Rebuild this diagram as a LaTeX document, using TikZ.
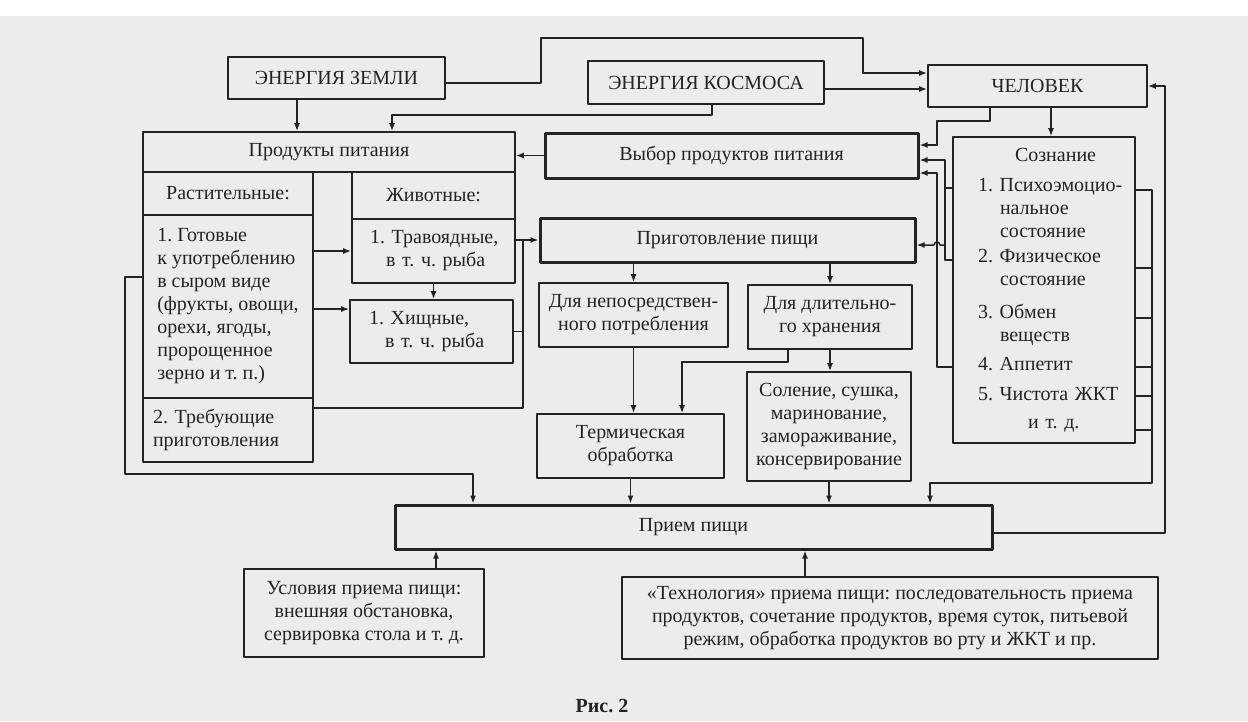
\documentclass[tikz,border=0pt]{standalone}
\usepackage{fontspec}
\setmainfont{Liberation Serif}
\usetikzlibrary{arrows.meta}
\definecolor{ink}{RGB}{35,35,35}
\definecolor{paper}{RGB}{236,236,238}
\frenchspacing
\begin{document}
\begin{tikzpicture}[x=1pt,y=-1pt,line join=round,>={Latex[length=8pt,width=6pt]},
	font=\fontsize{20}{23}\selectfont\frenchspacing,color=ink,line width=1.5pt,
	box/.style={draw,line width=1.6pt,inner sep=0pt,align=center},
	boldbox/.style={box,line width=3pt}]
	\fill[paper] (0,0) rectangle (1248,721);
	\fill[white] (0,0) rectangle (1248,16);
	\useasboundingbox (0,0) rectangle (1248,721);
	% sources
	\node[box,minimum width=217,minimum height=42] (zem) at (336.5,78) {ЭНЕРГИЯ ЗЕМЛИ};
	\node[box,minimum width=236,minimum height=43] (kos) at (706,82.5) {ЭНЕРГИЯ КОСМОСА};
	\node[box,minimum width=219,minimum height=42] (chel) at (1037.5,86) {ЧЕЛОВЕК};
	% products
	\node[box,minimum width=372,minimum height=40] (prod) at (329,152) {Продукты питания};
	\node[box,minimum width=170,minimum height=43] (rast) at (228,193.5) {Растительные:};
	\node[box,minimum width=170,minimum height=183,align=left] (gotov) at (228,306.5)
		{1. Готовые\\к употреблению\\в сыром виде\\(фрукты, овощи,\\орехи, ягоды,\\пророщенное\\зерно и т. п.)};
	\node[box,minimum height=64,text width=150,inner xsep=10,align=left] (treb) at (228,430) {2. Требующие\\приготовления};
	\node[box,minimum width=163,minimum height=47] (zhiv) at (433.5,195.5) {Животные:};
	\node[box,minimum width=163,minimum height=64,text width=145,align=left] (trav) at (433.5,251)
		{\hspace*{9pt}1. Травоядные,\\\hspace*{25pt}в т. ч. рыба};
	\node[box,minimum width=163,minimum height=63,text width=145,align=left] (hish) at (431.5,331.5)
		{\hspace*{10pt}1. Хищные,\\\hspace*{26pt}в т. ч. рыба};
	% choice and cooking
	\node[boldbox,minimum width=373,minimum height=45] (vybor) at (731.5,155.5) {Выбор продуктов питания};
	\node[boldbox,minimum width=375,minimum height=44] (prig) at (727.5,240) {Приготовление пищи};
	\node[box,minimum width=189,minimum height=64] (nepo) at (633.5,315) {Для непосредствен-\\ного потребления};
	\node[box,minimum width=164,minimum height=64] (dlit) at (830,317) {Для длительно-\\го хранения};
	\node[box,minimum width=187,minimum height=64] (term) at (630.5,446) {Термическая\\обработка};
	\node[box,minimum width=164,minimum height=109] (sol) at (829,426.5)
		{Соление, сушка,\\маринование,\\замораживание,\\консервирование};
	% consciousness
	\node[box,minimum width=182,minimum height=306,text width=170,align=left] (soz) at (1044,290)
		{\hspace*{56pt}Сознание\\[7pt]
		\hspace*{19pt}1. Психоэмоцио-\\\hspace*{41pt}нальное\\\hspace*{41pt}состояние\\[2pt]
		\hspace*{19pt}2. Физическое\\\hspace*{41pt}состояние\\[10pt]
		\hspace*{19pt}3. Обмен\\\hspace*{41pt}веществ\\[6pt]
		\hspace*{19pt}4. Аппетит\\[7pt]
		\hspace*{19pt}5. Чистота ЖКТ\\[5pt]
		\hspace*{69pt}и т. д.};
	% eating
	\node[boldbox,minimum width=597,minimum height=44] (priem) at (693.5,527) {Прием пищи};
	\node[box,minimum width=240,minimum height=88] (usl) at (364,613)
		{Условия приема пищи:\\внешняя обстановка,\\сервировка стола и т. д.};
	\node[box,minimum width=536,minimum height=82] (tech) at (890,618)
		{«Технология» приема пищи: последовательность приема\\продуктов, сочетание продуктов, время суток, питьевой\\режим, обработка продуктов во рту и ЖКТ и пр.};
	\node[font=\fontsize{20}{23}\selectfont\bfseries] (cap) at (602,706) {Рис. 2};
	% energy and human
	\draw[->] ([xshift=-39.5pt]zem.south) -- ([xshift=-39.5pt]zem.south |- prod.north);
	\draw[->] ([xshift=6pt]kos.south) -- ++(0,10) -| ([xshift=63pt]prod.north);
	\draw[->] ([yshift=-5pt]zem.east) -- ++(95,0) |- (863,38) |- ([yshift=13pt]chel.west);
	\draw[->] ([yshift=-6.5pt]kos.east) -- ([yshift=-6.5pt]kos.east -| chel.west);
	\draw[->] ([xshift=13.5pt]chel.south) -- ([xshift=13.5pt]chel.south |- soz.north);
	\draw[->] ([xshift=-47.5pt]chel.south) -- ++(0,13) -| (937,140) |- ([yshift=10.5pt]vybor.east);
	\draw[->] (vybor.west) -- (vybor.west -| prod.east);
	% consciousness to choice and cooking
	\draw ([yshift=102pt]soz.west) -- ++(-8,0);
	\draw[->] ([yshift=30pt]soz.west) -| (945,160) -- ([yshift=-4.5pt]vybor.east);
	\draw[->] (945,245) -- (940,245) arc[start angle=0,end angle=-180,radius=3] -- ([yshift=-5pt]prig.east);
	\draw[->] ([yshift=-77pt]soz.west) -| (937,173) -- ([yshift=-17.5pt]vybor.east);
	% consciousness to eating
	\foreach \dy in {22,-28,-77,-106,-140}
		\draw ([yshift=\dy pt]soz.east) -- ++(17,0);
	\draw[->] ([yshift=100pt]soz.east) -| (1152,483) -| ([xshift=236.5pt]priem.north);
	\draw[->] ([yshift=-6pt]priem.east) -- (1165,533) |- (chel.east);
	% products
	\draw[->] (gotov.east |- trav) -- (trav.west);
	\draw[->] ([yshift=22.5pt]hish.west -| gotov.east) -- ([yshift=22.5pt]hish.west);
	\draw[->] (trav.south) -- (trav.south |- hish.north);
	\draw[->] (trav.east |- prig.west) -- (prig.west);
	\draw (hish.east) -- (523,331.5);
	\draw ([yshift=22pt]treb.east) -| (523,240);
	\draw[->] ([yshift=29.5pt]gotov.west) -| (125,474) -| ([xshift=-220.5pt]priem.north);
	% cooking
	\draw[->] (nepo.north |- prig.south) -- (nepo.north);
	\draw[->] (dlit.north |- prig.south) -- (dlit.north);
	\draw[->] (nepo.south) -- (nepo.south |- term.north);
	\draw[->] ([xshift=-42pt]dlit.south) -- ++(0,12) -| ([xshift=51.5pt]term.north);
	\draw[->] (dlit.south) -- (dlit.south |- sol.north);
	\draw[->] (term.south) -- (term.south |- priem.north);
	\draw[->] (sol.south) -- (sol.south |- priem.north);
	% conditions
	\draw[->] ([xshift=72pt]usl.north) -- ([xshift=72pt]usl.north |- priem.south);
	\draw[->] ([xshift=-85pt]tech.north) -- ([xshift=-85pt]tech.north |- priem.south);
\end{tikzpicture}
\end{document}
